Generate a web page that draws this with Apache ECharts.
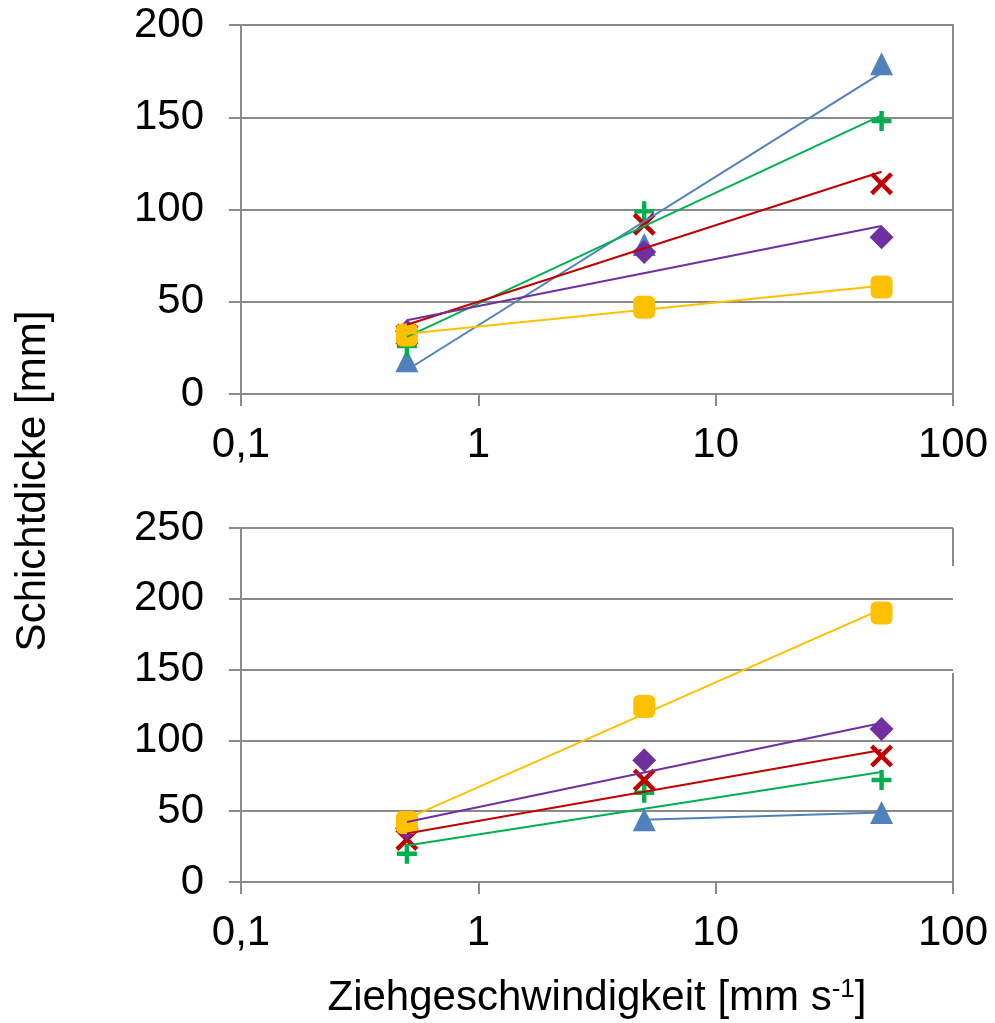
<!DOCTYPE html>
<html>
<head>
<meta charset="utf-8">
<script src="https://cdn.jsdelivr.net/npm/echarts@6.0.0/dist/echarts.min.js"></script>
<style>
  html, body { margin: 0; padding: 0; background: #ffffff; }
  #chart { width: 995px; height: 1023px; }
</style>
</head>
<body>
<div id="chart"></div>
<script>
// Ziehgeschwindigkeit [mm/s]
const speeds = [0.5, 5, 50];

// Oberes Diagramm: Schichtdicke [mm]
const topTriangle = [18, 81, 179];
const topPlus     = [26, 99, 148];
const topCross    = [32, 92, 114];
const topDiamond  = [34, 77, 85];
const topSquare   = [32, 47, 58];

// Unteres Diagramm: Schichtdicke [mm]
const botTriangle = [null, 44, 49];
const botPlus     = [20, 63, 72];
const botCross    = [30, 72, 89];
const botDiamond  = [38, 86, 108];
const botSquare   = [42, 124, 190];

// Logarithmische Trendlinien: Anfangs- und Endwert (x-Bereich der Messpunkte)
const topTrendTriangle = [13, 174];
const topTrendPlus     = [31, 151];
const topTrendCross    = [37.5, 120.5];
const topTrendDiamond  = [40, 91];
const topTrendSquare   = [32.7, 58.7];

const botTrendTriangle = [44, 49];
const botTrendPlus     = [25.7, 77.7];
const botTrendCross    = [34.2, 93.2];
const botTrendDiamond  = [42.3, 112.3];
const botTrendSquare   = [44.7, 192.7];

const xTicks = [0.1, 1, 10, 100];
const topYTicks = [0, 50, 100, 150, 200];
const botYTicks = [0, 50, 100, 150, 200, 250];

const FONT = 'Liberation Sans, Arial, sans-serif';
const GRID_COLOR = '#8a8a8a';

const PLUS_PATH = 'path://M39,0H61V39H100V61H61V100H39V61H0V39H39Z';
const CROSS_PATH = 'path://M42,0H58V42H100V58H58V100H42V58H0V42H42Z';

const styles = {
  triangle: { color: '#4F81BD', symbol: 'triangle', size: 23, rotate: 0 },
  plus:     { color: '#00B050', symbol: PLUS_PATH, size: 20, rotate: 0 },
  cross:    { color: '#C00000', symbol: CROSS_PATH, size: 28, rotate: 45 },
  diamond:  { color: '#7030A0', symbol: 'diamond', size: 24, rotate: 0 },
  square:   { color: '#FFC000', symbol: 'roundRect', size: [22, 23], rotate: 0 }
};

function points(values) {
  const out = [];
  values.forEach((v, i) => { if (v !== null) out.push([speeds[i], v]); });
  return out;
}

function trendData(values, ends) {
  // Trendlinie über den Bereich der vorhandenen Messpunkte
  const xs = speeds.filter((_, i) => values[i] !== null);
  return [[xs[0], ends[0]], [xs[xs.length - 1], ends[1]]];
}

function panelSeries(idx, sets) {
  const out = [];
  sets.forEach(([key, values, ends], k) => {
    const s = styles[key];
    out.push({
      type: 'scatter',
      xAxisIndex: idx, yAxisIndex: idx,
      data: points(values),
      symbol: s.symbol,
      symbolSize: s.size,
      symbolRotate: s.rotate,
      itemStyle: { color: s.color, opacity: 1 },
      z: 2 + k,
      silent: true
    });
    out.push({
      type: 'line',
      xAxisIndex: idx, yAxisIndex: idx,
      data: trendData(values, ends),
      showSymbol: false,
      symbol: 'none',
      lineStyle: { color: s.color, width: 2 },
      z: 10 + k,
      silent: true,
      animation: false
    });
  });
  return out;
}

function xAxis(gridIndex) {
  return {
    type: 'log', logBase: 10, gridIndex,
    min: xTicks[0], max: xTicks[xTicks.length - 1],
    axisLine: { show: true, lineStyle: { color: GRID_COLOR, width: 2 } },
    axisTick: { show: true, length: 12, inside: false, lineStyle: { color: GRID_COLOR, width: 2 } },
    axisLabel: {
      color: '#000', fontFamily: FONT, fontSize: 42, margin: 30,
      formatter: v => String(Number(v.toPrecision(6))).replace('.', ',')
    },
    splitLine: { show: false },
    minorTick: { show: false }
  };
}

function yAxis(gridIndex, ticks) {
  return {
    type: 'value', gridIndex,
    min: ticks[0], max: ticks[ticks.length - 1], interval: ticks[1] - ticks[0],
    axisLine: { show: true, lineStyle: { color: GRID_COLOR, width: 2 } },
    axisTick: { show: true, length: 12, lineStyle: { color: GRID_COLOR, width: 2 } },
    axisLabel: { color: '#000', fontFamily: FONT, fontSize: 42, margin: 37 },
    splitLine: { show: true, lineStyle: { color: GRID_COLOR, width: 2 } }
  };
}

// Rechter Rahmen des unteren Diagramms (mit Unterbrechung)
const frameLine = (y1, y2) => ({
  type: 'line', z: 1, silent: true,
  shape: { x1: 953, y1, x2: 953, y2 },
  style: { stroke: GRID_COLOR, lineWidth: 2 }
});

const chart = echarts.init(document.getElementById('chart'), null, { renderer: 'canvas' });

chart.setOption({
  animation: false,
  backgroundColor: '#ffffff',
  grid: [
    { left: 241, right: 42, top: 25, height: 369, show: true, borderColor: GRID_COLOR, borderWidth: 2, backgroundColor: 'transparent' },
    { left: 241, right: 42, top: 528, height: 354, show: false }
  ],
  xAxis: [xAxis(0), xAxis(1)],
  yAxis: [yAxis(0, topYTicks), yAxis(1, botYTicks)],
  series: [
    ...panelSeries(0, [
      ['triangle', topTriangle, topTrendTriangle],
      ['plus', topPlus, topTrendPlus],
      ['cross', topCross, topTrendCross],
      ['diamond', topDiamond, topTrendDiamond],
      ['square', topSquare, topTrendSquare]
    ]),
    ...panelSeries(1, [
      ['triangle', botTriangle, botTrendTriangle],
      ['plus', botPlus, botTrendPlus],
      ['cross', botCross, botTrendCross],
      ['diamond', botDiamond, botTrendDiamond],
      ['square', botSquare, botTrendSquare]
    ])
  ],
  graphic: [
    frameLine(528, 566),
    frameLine(673, 882),
    {
      type: 'text',
      x: 33, y: 481,
      rotation: Math.PI / 2,
      style: {
        text: 'Schichtdicke [mm]',
        fontFamily: FONT, fontSize: 42, fill: '#000',
        align: 'center', verticalAlign: 'middle'
      }
    },
    {
      type: 'text',
      x: 597, y: 998,
      style: {
        text: 'Ziehgeschwindigkeit [mm s{sup|-1}]',
        fontFamily: FONT, fontSize: 42, fill: '#000',
        align: 'center', verticalAlign: 'middle',
        rich: {
          sup: { fontFamily: FONT, fontSize: 26, lineHeight: 26, verticalAlign: 'top', fill: '#000' }
        }
      }
    }
  ]
});
</script>
</body>
</html>
